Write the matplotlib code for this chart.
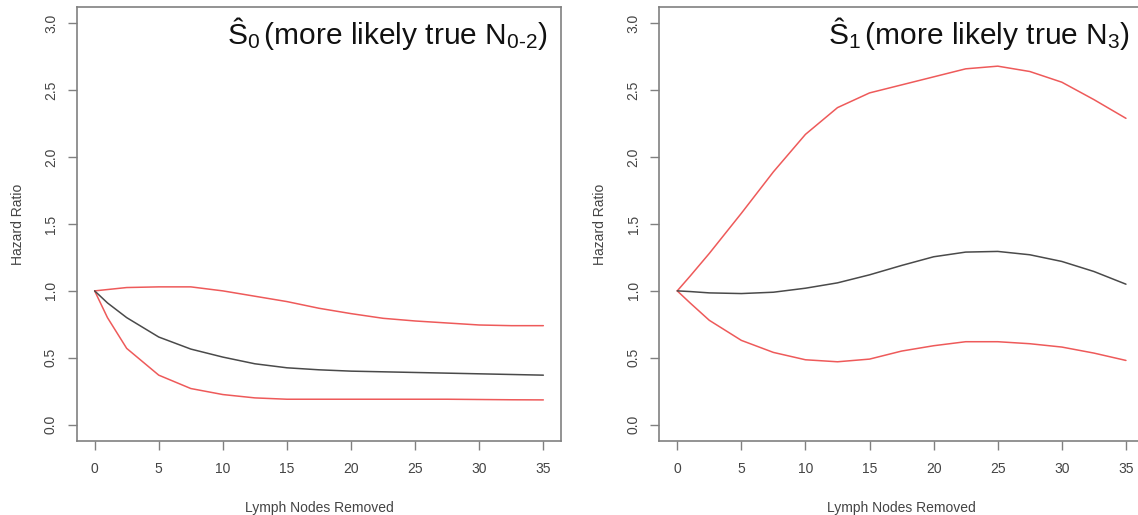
import matplotlib
matplotlib.use("Agg")
import matplotlib.pyplot as plt

plt.rcParams['font.family'] = ['Liberation Sans', 'DejaVu Sans']
plt.rcParams['mathtext.fontset'] = 'custom'
plt.rcParams['mathtext.rm'] = 'Liberation Sans'
plt.rcParams['mathtext.it'] = 'Liberation Sans:italic'

# ---- data ----
nodes = [0, 1, 2.5, 5, 7.5, 10, 12.5, 15, 17.5, 20, 22.5, 25, 27.5, 30, 32.5, 35]

s0_upper = [1.0, 1.01, 1.025, 1.03, 1.03, 1.0, 0.96, 0.92, 0.87, 0.83, 0.795, 0.775, 0.76, 0.745, 0.74, 0.74]
s0_hr    = [1.0, 0.91, 0.80, 0.655, 0.565, 0.505, 0.455, 0.425, 0.41, 0.40, 0.395, 0.39, 0.385, 0.38, 0.375, 0.37]
s0_lower = [1.0, 0.80, 0.57, 0.37, 0.27, 0.225, 0.20, 0.19, 0.19, 0.19, 0.19, 0.19, 0.19, 0.188, 0.186, 0.185]

s1_upper = [1.0, 1.11, 1.28, 1.58, 1.89, 2.17, 2.37, 2.48, 2.54, 2.60, 2.66, 2.68, 2.64, 2.56, 2.43, 2.29]
s1_hr    = [1.0, 0.995, 0.985, 0.98, 0.99, 1.02, 1.06, 1.12, 1.19, 1.255, 1.29, 1.295, 1.27, 1.22, 1.145, 1.05]
s1_lower = [1.0, 0.91, 0.78, 0.63, 0.54, 0.485, 0.47, 0.49, 0.55, 0.59, 0.62, 0.62, 0.605, 0.58, 0.535, 0.48]

x_ticks = [0, 5, 10, 15, 20, 25, 30, 35]
y_ticks = [0.0, 0.5, 1.0, 1.5, 2.0, 2.5, 3.0]
y_tick_labels = ["0.0", "0.5", "1.0", "1.5", "2.0", "2.5", "3.0"]
titles = [r"Ŝ$_{0}\,$(more likely true N$_{\text{0-2}}$)",
          r"Ŝ$_{1}\,$(more likely true N$_{3}$)"]
xlabel = "Lymph Nodes Removed"
ylabel = "Hazard Ratio"

panels = [(s0_upper, s0_hr, s0_lower), (s1_upper, s1_hr, s1_lower)]

W, H = 1138, 515
fig = plt.figure(figsize=(W / 100, H / 100), dpi=100)

ax_w = 484.6 / W
ax_h = 433.4 / H
ax_b = (H - 440.7) / H
lefts = [76.7 / W, 659.3 / W]

red = '#ee5a5a'
dark = '#4a4a4a'
frame = '#808080'
txt = '#444444'

for i, (up, hr, lo) in enumerate(panels):
    ax = fig.add_axes([lefts[i], ax_b, ax_w, ax_h])
    ax.plot(nodes, up, color=red, lw=1.1, solid_capstyle='round')
    ax.plot(nodes, lo, color=red, lw=1.1, solid_capstyle='round')
    ax.plot(nodes, hr, color=dark, lw=1.1, solid_capstyle='round')
    ax.set_xlim(-1.4, 36.4)
    ax.set_ylim(-0.12, 3.12)
    ax.set_xticks(x_ticks)
    ax.set_yticks(y_ticks)
    ax.set_yticklabels(y_tick_labels, rotation=90, va='center')
    for sp in ax.spines.values():
        sp.set_color(frame)
        sp.set_linewidth(1.2)
    ax.tick_params(axis='both', direction='out', length=6.5, width=1.0,
                   color=frame, labelcolor=txt, labelsize=10)
    ax.tick_params(axis='x', pad=9)
    ax.tick_params(axis='y', pad=7)
    ax.set_xlabel(xlabel, fontsize=10, color=txt, labelpad=18)
    ax.set_ylabel(ylabel, fontsize=10, color=txt, labelpad=14)
    ax.text(0.972, 0.915, titles[i], transform=ax.transAxes, ha='right',
            va='baseline', fontsize=21.5, color='#111111')

fig.savefig("out.png", dpi=100, facecolor='white')
